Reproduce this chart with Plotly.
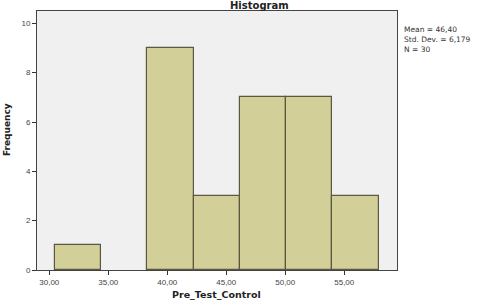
import plotly.graph_objects as go

# Data
bin_starts = [30.48, 34.40, 38.32, 42.24, 46.16, 50.08, 54.00]
bin_width = 3.92
counts = [1, 0, 9, 3, 7, 7, 3]
x_ticks = [30, 35, 40, 45, 50, 55]
x_tick_labels = ["30,00", "35,00", "40,00", "45,00", "50,00", "55,00"]
y_ticks = [0, 2, 4, 6, 8, 10]
stats_text = ["Mean = 46,40", "Std. Dev. = 6,179", "N = 30"]

xs = [s + bin_width / 2 for s, c in zip(bin_starts, counts) if c > 0]
ys = [c for c in counts if c > 0]

fig = go.Figure()
fig.add_trace(go.Bar(
    x=xs, y=ys, width=[bin_width] * len(ys),
    marker=dict(color="#d3cf98", line=dict(color="#5a5840", width=1.2)),
    hoverinfo="skip",
))

W, H = 487, 300
L, R, T, B = 37, 397, 11, 270

fig.update_layout(
    width=W, height=H,
    margin=dict(l=L, r=W - R, t=T, b=H - B),
    paper_bgcolor="white",
    plot_bgcolor="#f0f0f0",
    showlegend=False,
    bargap=0,
    font=dict(family="Liberation Sans, Arial, sans-serif", color="#333333"),
    xaxis=dict(
        range=[28.96, 59.47], tickvals=x_ticks, ticktext=x_tick_labels,
        ticks="outside", ticklen=4, tickcolor="#333333", tickwidth=1,
        tickfont=dict(size=8, color="#444444"),
        showgrid=False, zeroline=False,
        showline=True, linecolor="#444444", linewidth=1, mirror=True,
    ),
    yaxis=dict(
        range=[0, 10.5], tickvals=y_ticks,
        ticks="outside", ticklen=4, tickcolor="#333333", tickwidth=1,
        tickfont=dict(size=8, color="#444444"),
        showgrid=False, zeroline=False,
        showline=True, linecolor="#444444", linewidth=1, mirror=True,
    ),
)

fig.add_annotation(text="<b>Histogram</b>", xref="paper", yref="paper",
                   x=(259 - L) / (R - L), y=1 + (T - 5) / (B - T),
                   xanchor="center", yanchor="middle", showarrow=False,
                   font=dict(size=10, color="#222222", family="DejaVu Sans"))

fig.add_annotation(text="<br>".join(stats_text), xref="paper", yref="paper",
                   x=(402 - L) / (R - L), y=1 - (23 - T) / (B - T),
                   xanchor="left", yanchor="top", align="left", showarrow=False,
                   font=dict(size=7.5, color="#333333", family="DejaVu Sans"))

fig.add_annotation(text="<b>Frequency</b>", xref="paper", yref="paper",
                   x=(7 - L) / (R - L), y=1 - (130 - T) / (B - T),
                   xanchor="center", yanchor="middle", textangle=-90, showarrow=False,
                   font=dict(size=9, color="#222222", family="DejaVu Sans"))

fig.add_annotation(text="<b>Pre_Test_Control</b>", xref="paper", yref="paper",
                   x=(216 - L) / (R - L), y=-(294 - B) / (B - T),
                   xanchor="center", yanchor="middle", showarrow=False,
                   font=dict(size=9.5, color="#222222", family="DejaVu Sans"))

fig.write_html("out.html")
